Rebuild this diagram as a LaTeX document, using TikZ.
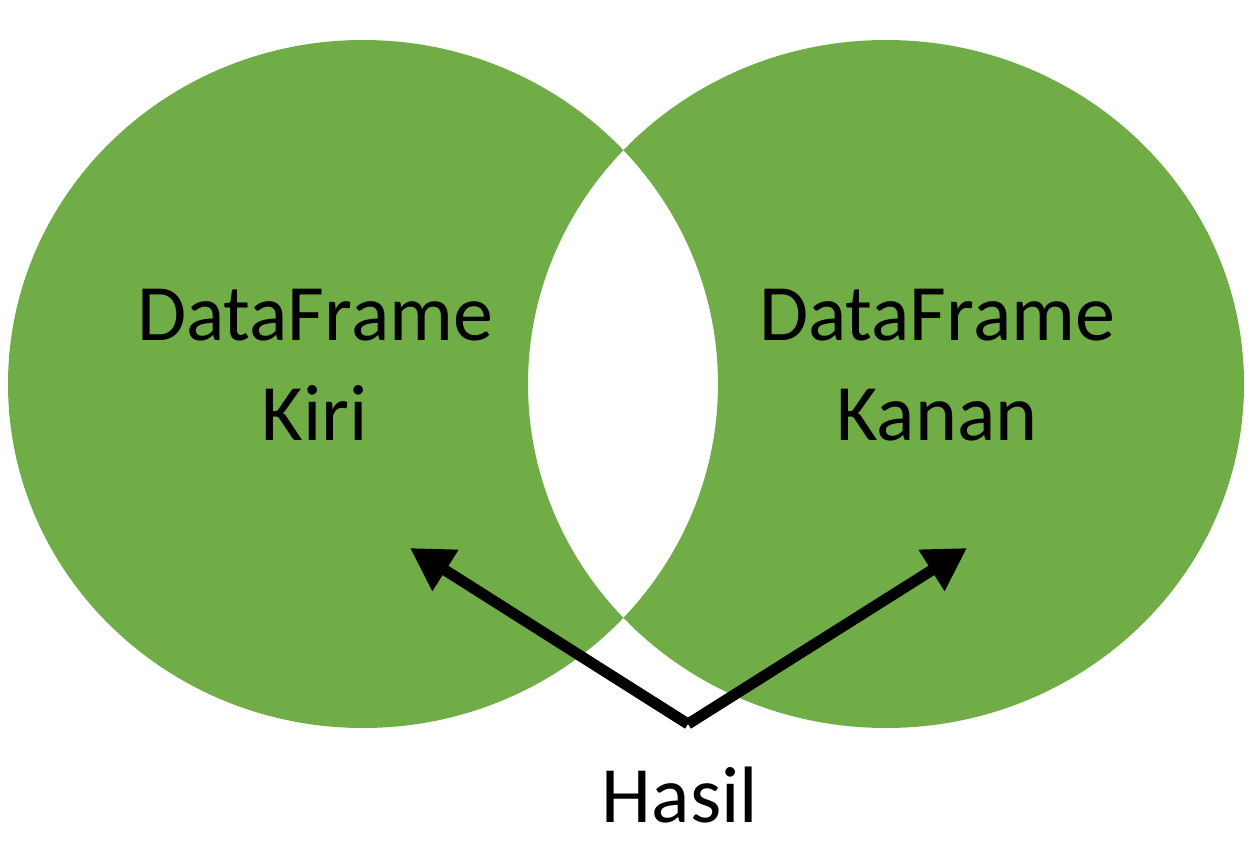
\documentclass[tikz,border=0pt]{standalone}
\usepackage{fontspec}
\setmainfont{Carlito}
\usetikzlibrary{arrows.meta}
\definecolor{vg}{HTML}{70AD47}
\begin{document}
\begin{tikzpicture}[x=1pt,y=-1pt,
  lbl/.style={font=\fontsize{80}{96}\selectfont,text=black,align=center,inner sep=0pt},
  arr/.style={line width=11pt,-{Triangle[length=42pt,width=46pt]},black}]
\useasboundingbox (0,0) rectangle (1253,848);
\fill[vg,even odd rule] (363,384) ellipse[x radius=355,y radius=344] (886,384) ellipse[x radius=358,y radius=344];
\node[lbl,anchor=base] (k1) at (315,340) {DataFrame};
\node[lbl,anchor=base] (k2) at (315,440) {Kiri};
\node[lbl,anchor=base] (n1) at (937,340) {DataFrame};
\node[lbl,anchor=base] (n2) at (937,440) {Kanan};
\node[lbl,anchor=base] (h) at (680,822) {Hasil};
\coordinate (apex) at (688,724);
\coordinate (tl) at (410,548);
\coordinate (tr) at (967,548);
\draw[arr] (apex) -- (tl);
\draw[arr] (apex) -- (tr);
\end{tikzpicture}
\end{document}
